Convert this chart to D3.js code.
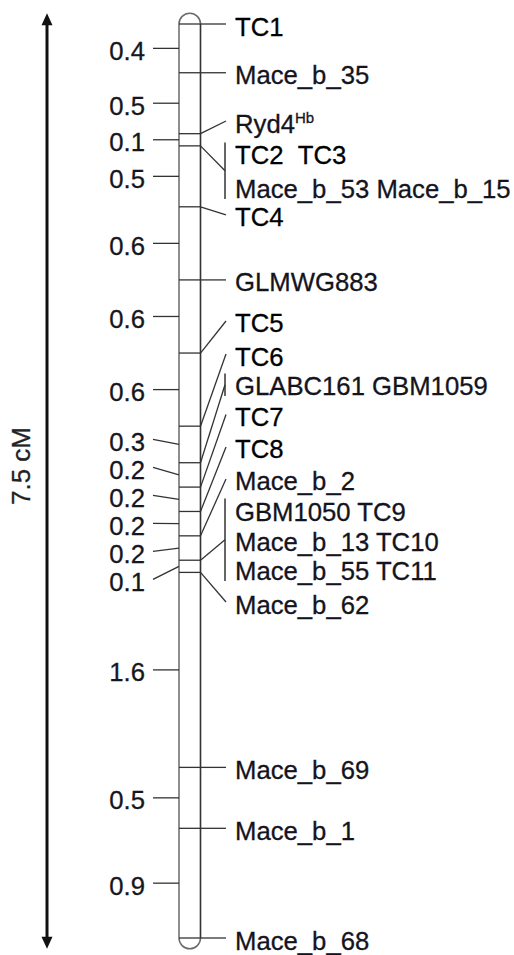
<!DOCTYPE html>
<html><head><meta charset="utf-8">
<script src="https://cdn.jsdelivr.net/npm/d3@7"></script>
<style>
body{margin:0;background:#fff}
svg{display:block}
text{font-family:"Liberation Sans",Arial,sans-serif}
</style></head>
<body><svg id="c" width="514" height="955"></svg>
<script>
// ---------------- DATA ----------------
// distances (cM) between successive loci, read from the left labels
const intervals = [0.4,0.5,0.1,0.5,0.6,0.6,0.6,0.3,0.2,0.2,0.2,0.2,0.1,1.6,0.5,0.9];
// label rows on the right: text, superscript, locus index, bracket group
const rowText  = ["TC1","Mace_b_35","Ryd4","TC2\u00a0\u00a0TC3","Mace_b_53 Mace_b_15","TC4","GLMWG883","TC5","TC6",
                  "GLABC161 GBM1059","TC7","TC8","Mace_b_2","GBM1050 TC9","Mace_b_13 TC10","Mace_b_55 TC11",
                  "Mace_b_62","Mace_b_69","Mace_b_1","Mace_b_68"];
const rowSup   = ["","","Hb","","","","","","","","","","","","","","","","",""];
const rowLocus = [0,1,2,3,3,4,5,6,7,8,9,10,11,12,12,12,13,14,15,16];
const rowGroup = [null,null,null,"a","a",null,null,null,null,"b",null,null,null,"c","c","c",null,null,null,null];
const rowIsTC  = [true,false,false,true,false,true,false,true,true,false,true,true,false,false,false,false,false,false,false,false];

// ---------------- LAYOUT ----------------
// where each right-hand label row sits along the map (cM units)
const labelRowCM = [0,0.4,0.796,1.058,1.337,1.567,2.1,2.437,2.708,2.954,3.204,3.471,3.733,3.98,4.226,4.472,4.743,6.1,6.6,7.5];

const svg = d3.select("#c");
const total = d3.sum(intervals);
const loci = [0, ...Array.from(d3.cumsum(intervals))];
const y = d3.scaleLinear().domain([0,total]).range([24,938]);

const chrL = 179, chrR = 200.5, chrW = chrR-chrL, r = chrW/2;
const lineCol = "#333";
const fs = 25.7;

// chromosome body
svg.append("rect")
  .attr("x",chrL).attr("y",y(0)-r).attr("width",chrW).attr("height",y(total)-y(0)+2*r)
  .attr("rx",r).attr("ry",r)
  .attr("fill","#fff").attr("stroke","#6a6a6a").attr("stroke-width",1.5);
svg.append("line").attr("x1",chrR).attr("x2",chrR).attr("y1",y(0)).attr("y2",y(total))
  .attr("stroke","#333").attr("stroke-width",1.3);

// marker cross lines
svg.selectAll("line.locus").data(loci).join("line").attr("class","locus")
  .attr("x1",chrL).attr("x2",chrR).attr("y1",d=>y(d)).attr("y2",d=>y(d))
  .attr("stroke",lineCol).attr("stroke-width",1.3);

// ---------------- left interval labels ----------------
const mids = intervals.map((d,i)=>({v:d, t:y((loci[i]+loci[i+1])/2)}));
// simple de-overlap with a fixed minimum spacing
const gap = 28;
let groups = mids.map(m=>({items:[m]}));
function place(g){const mean=d3.mean(g.items,d=>d.t); g.top=mean-(g.items.length-1)*gap/2;}
groups.forEach(place);
let changed=true;
while(changed){
  changed=false;
  for(let i=1;i<groups.length;i++){
    const a=groups[i-1], b=groups[i];
    if(b.top < a.top+(a.items.length-1)*gap+gap){
      a.items=a.items.concat(b.items); place(a); groups.splice(i,1); changed=true; break;
    }
  }
}
groups.forEach(g=>g.items.forEach((m,k)=>m.ly=g.top+k*gap));

const tickX0 = 153;
svg.selectAll("line.lt").data(mids).join("line").attr("class","lt")
  .attr("x1",tickX0).attr("y1",d=>d.ly).attr("x2",chrL).attr("y2",d=>d.t)
  .attr("stroke",lineCol).attr("stroke-width",1.3);
svg.selectAll("text.lv").data(mids).join("text").attr("class","lv")
  .attr("x",145).attr("y",d=>d.ly+11.5).attr("text-anchor","end")
  .attr("font-size",fs).attr("fill","#161620")
  .attr("stroke","#161620").attr("stroke-width",0.3)
  .text(d=>d.v.toFixed(1));

// ---------------- right marker labels ----------------
const textX = 235, connX = 226, brX = 225;
const rows = rowText.map((t,i)=>({t, sup:rowSup[i], locus:rowLocus[i], grp:rowGroup[i], tc:rowIsTC[i], ay:y(labelRowCM[i])}));

// connectors for single rows
svg.selectAll("line.rc").data(rows.filter(d=>!d.grp)).join("line").attr("class","rc")
  .attr("x1",chrR).attr("y1",d=>y(loci[d.locus])).attr("x2",connX).attr("y2",d=>d.ay)
  .attr("stroke",lineCol).attr("stroke-width",1.3);

// brackets for grouped rows
const grpData = d3.groups(rows.filter(d=>d.grp), d=>d.grp).map(([k,v])=>{
  const top=d3.min(v,d=>d.ay)-10.5, bot=d3.max(v,d=>d.ay)+12;
  return {k, top, bot, locus:v[0].locus};
});
svg.selectAll("line.br").data(grpData).join("line").attr("class","br")
  .attr("x1",brX).attr("x2",brX).attr("y1",d=>d.top).attr("y2",d=>d.bot)
  .attr("stroke",lineCol).attr("stroke-width",1.5);
svg.selectAll("line.bc").data(grpData).join("line").attr("class","bc")
  .attr("x1",chrR).attr("y1",d=>y(loci[d.locus])).attr("x2",brX).attr("y2",d=>(d.top+d.bot)/2)
  .attr("stroke",lineCol).attr("stroke-width",1.3);

const lab = svg.selectAll("text.rl").data(rows).join("text").attr("class","rl")
  .attr("x",textX).attr("y",d=>d.ay+11.5)
  .attr("font-size",fs).attr("fill",d=>d.tc?"#000":"#141420")
  .attr("stroke",d=>d.tc?"#000":"#141420").attr("stroke-width",0.3);
lab.append("tspan").text(d=>d.t);
lab.filter(d=>d.sup).append("tspan").attr("font-size",15).attr("dy",-10).text(d=>d.sup);

// ---------------- scale arrow ----------------
const ax = 47;
const aTop = y(0)-r, aBot = y(total)+r;
svg.append("line").attr("x1",ax).attr("x2",ax).attr("y1",aTop+10).attr("y2",aBot-10)
  .attr("stroke","#111").attr("stroke-width",3);
svg.append("path").attr("d",`M${ax},${aTop} L${ax-5.5},${aTop+12} L${ax+5.5},${aTop+12} Z`).attr("fill","#111");
svg.append("path").attr("d",`M${ax},${aBot} L${ax-5.5},${aBot-12} L${ax+5.5},${aBot-12} Z`).attr("fill","#111");
svg.append("text")
  .attr("transform",`translate(30,${(aTop+aBot)/2-15}) rotate(-90)`)
  .attr("text-anchor","middle").attr("font-size",26).attr("fill","#222")
  .attr("stroke","#222").attr("stroke-width",0.3)
  .text(`${total.toFixed(1)} cM`);
</script></body></html>
